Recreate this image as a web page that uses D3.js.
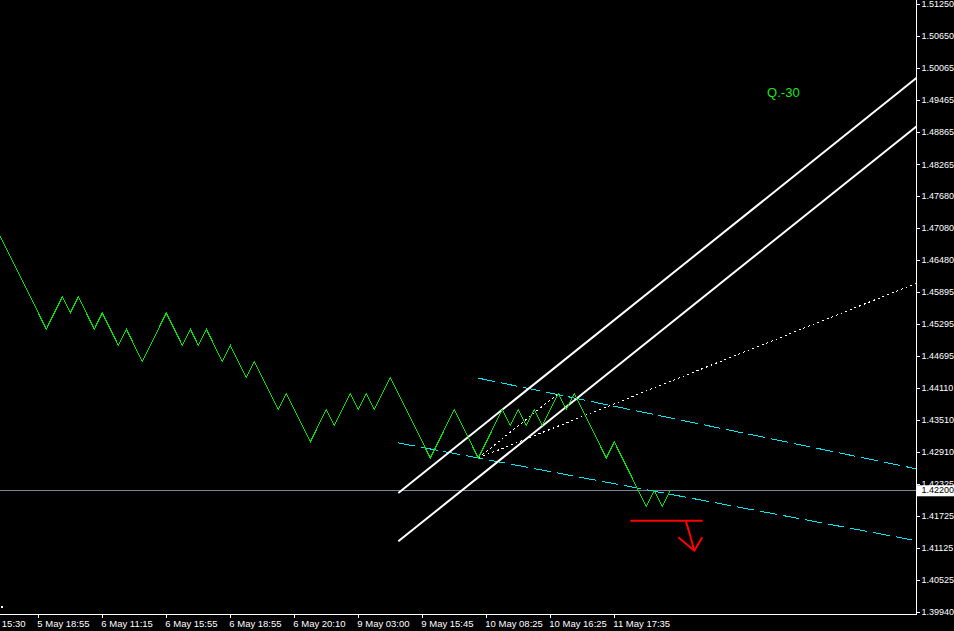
<!DOCTYPE html>
<html><head><meta charset="utf-8">
<script src="https://cdn.jsdelivr.net/npm/d3@7"></script>
<style>html,body{margin:0;padding:0;background:#000;overflow:hidden}</style>
</head><body>
<svg id="c" width="954" height="631"></svg>
<script>
// ---- data ----
const firstBar = -2;
const closes = [
  1.473, 1.470, 1.467, 1.464, 1.461, 1.458, 1.455, 1.452, 1.455, 1.458,
  1.455, 1.458, 1.455, 1.452, 1.455, 1.452, 1.449, 1.452, 1.449, 1.446,
  1.449, 1.452, 1.455, 1.452, 1.449, 1.452, 1.449, 1.452, 1.449, 1.446,
  1.449, 1.446, 1.443, 1.446, 1.443, 1.440, 1.437, 1.440, 1.437, 1.434,
  1.431, 1.434, 1.437, 1.434, 1.437, 1.440, 1.437, 1.440, 1.437, 1.440,
  1.443, 1.440, 1.437, 1.434, 1.431, 1.428, 1.431, 1.434, 1.437, 1.434,
  1.431, 1.428, 1.431, 1.434, 1.437, 1.434, 1.437, 1.434, 1.437, 1.434,
  1.437, 1.440, 1.437, 1.440, 1.437, 1.434, 1.431, 1.428, 1.431, 1.428,
  1.425, 1.422, 1.419, 1.422, 1.419, 1.422
];
const timeTickBars = [-4, 4, 12, 20, 28, 36, 44, 52, 60, 68, 76];
const timeTickLabels = ["5 May 15:30", "5 May 18:55", "6 May 11:15", "6 May 15:55", "6 May 18:55",
  "6 May 20:10", "9 May 03:00", "9 May 15:45", "10 May 08:25", "10 May 16:25", "11 May 17:35"];
const priceTicks = [1.51250, 1.50650, 1.50065, 1.49465, 1.48865, 1.48265, 1.47680, 1.47080, 1.46480, 1.45895,
  1.45295, 1.44695, 1.44110, 1.43510, 1.42910, 1.42325, 1.41725, 1.41125, 1.40525, 1.39940];
const currentPrice = 1.42200;

// drawn objects, anchored as [bar, price]
const channelUpper = [[49, 1.4215], [62, 1.4370]];
const channelLower = [[49, 1.4125], [62, 1.4280]];
const cyanUpper = [[59, 1.44287], [71, 1.43917]];
const cyanLower = [[49, 1.43081], [59, 1.42800]];
const dottedSteep = [[59, 1.4280], [69, 1.4400]];
const dottedRay = [[59, 1.4280], [75, 1.4375]];
const redLevel = [[78, 1.41634], [87.05, 1.41634]];
const arrowShaft = [[84.96, 1.41616], [85.4, 1.41400], [86.0, 1.41075]];
const arrowHead = [[84.0, 1.41324], [86.0, 1.41075], [87.0, 1.41324]];
const noteText = "Q.-30";
const noteAnchor = [95.1, 1.4952];

// ---- layout ----
const W = 954, H = 631, plotR = 916.5, plotB = 614.5;
const x = d3.scaleLinear().domain([-0.7875, 113.7125]).range([0, 916]);
const y = d3.scaleLinear().domain([1.39940, 1.51250]).range([611.7, 4]);

const svg = d3.select("#c");
svg.append("rect").attr("width", W).attr("height", H).attr("fill", "#000");
svg.append("defs").append("clipPath").attr("id", "plot")
  .append("rect").attr("x", 0).attr("y", 0).attr("width", plotR).attr("height", plotB);
const g = svg.append("g").attr("clip-path", "url(#plot)");

const line = d3.line().x(d => x(d[0])).y(d => y(d[1]));
const xMax = x.domain()[1] + 1;
function ray(a) {
  const [p, q] = a;
  const s = (q[1] - p[1]) / (q[0] - p[0]);
  return [p, [xMax, p[1] + s * (xMax - p[0])]];
}

// current price line
g.append("path").attr("d", line([[x.domain()[0] - 1, currentPrice], [xMax, currentPrice]]))
  .attr("stroke", "#778899").attr("stroke-width", 1).attr("fill", "none")
  .attr("shape-rendering", "crispEdges");

// cyan dashed trend lines
[cyanUpper, cyanLower].forEach(a => {
  g.append("path").attr("d", line(ray(a))).attr("stroke", "#00e8f0").attr("stroke-width", 1)
    .attr("fill", "none").attr("stroke-dasharray", "17,6").attr("shape-rendering", "crispEdges");
});

// dotted white lines
g.append("path").attr("d", line(dottedSteep)).attr("stroke", "#fff").attr("stroke-width", 1)
  .attr("fill", "none").attr("stroke-dasharray", "2,3").attr("shape-rendering", "crispEdges");
g.append("path").attr("d", line(ray(dottedRay))).attr("stroke", "#fff").attr("stroke-width", 1)
  .attr("fill", "none").attr("stroke-dasharray", "2,3").attr("shape-rendering", "crispEdges");

// white channel lines
[channelUpper, channelLower].forEach(a => {
  g.append("path").attr("d", line(ray(a))).attr("stroke", "#fff").attr("stroke-width", 2)
    .attr("fill", "none");
});

// price line (green)
const pts = closes.map((c, i) => [firstBar + i, c]);
g.append("path").attr("d", line(pts)).attr("stroke", "#00e600").attr("stroke-width", 1)
  .attr("fill", "none").attr("shape-rendering", "crispEdges");

// red level + arrow
g.append("path").attr("d", line(redLevel)).attr("stroke", "#ff0000").attr("stroke-width", 2).attr("fill", "none");
g.append("path").attr("d", d3.line().x(d => x(d[0])).y(d => y(d[1])).curve(d3.curveCatmullRom)(arrowShaft))
  .attr("stroke", "#ff0000").attr("stroke-width", 2).attr("fill", "none");
g.append("path").attr("d", line(arrowHead)).attr("stroke", "#ff0000").attr("stroke-width", 2)
  .attr("fill", "none").attr("stroke-linejoin", "round");

// annotation text
g.append("text").attr("x", x(noteAnchor[0])).attr("y", y(noteAnchor[1]))
  .attr("fill", "#1ee61e").attr("font-family", "Liberation Sans, Arial, sans-serif")
  .attr("font-size", 13).text(noteText);

// small marker bottom-left
svg.append("rect").attr("x", 1).attr("y", 606).attr("width", 2).attr("height", 2).attr("fill", "#fff");

// ---- axes ----
svg.append("line").attr("x1", 0).attr("x2", plotR).attr("y1", plotB).attr("y2", plotB)
  .attr("stroke", "#fff").attr("shape-rendering", "crispEdges");
svg.append("line").attr("x1", plotR).attr("x2", plotR).attr("y1", 0).attr("y2", plotB)
  .attr("stroke", "#fff").attr("shape-rendering", "crispEdges");

const xa = svg.append("g");
timeTickBars.forEach((b, i) => {
  const xx = Math.round(x(b)) + 0.5;
  xa.append("line").attr("x1", xx).attr("x2", xx).attr("y1", plotB).attr("y2", plotB + 3)
    .attr("stroke", "#fff").attr("shape-rendering", "crispEdges");
  xa.append("text").attr("x", x(b) - 1).attr("y", 626.5).attr("fill", "#fff")
    .attr("font-family", "Liberation Sans, Arial, sans-serif").attr("font-size", 9.5)
    .text(timeTickLabels[i]);
});

const ya = svg.append("g");
priceTicks.forEach(p => {
  const yy = Math.round(y(p)) + 0.5;
  ya.append("line").attr("x1", plotR).attr("x2", plotR + 3).attr("y1", yy).attr("y2", yy)
    .attr("stroke", "#fff").attr("shape-rendering", "crispEdges");
  ya.append("text").attr("x", 921.5).attr("y", y(p)).attr("dy", "0.35em").attr("fill", "#fff")
    .attr("font-family", "Liberation Sans, Arial, sans-serif").attr("font-size", 9)
    .text(p.toFixed(5));
});

// current price label
const cy = y(currentPrice);
ya.append("rect").attr("x", 917).attr("y", cy - 5).attr("width", 37).attr("height", 11).attr("fill", "#fff");
ya.append("text").attr("x", 921.5).attr("y", cy).attr("dy", "0.35em").attr("fill", "#000")
  .attr("font-family", "Liberation Sans, Arial, sans-serif").attr("font-size", 9)
  .text(currentPrice.toFixed(5));
</script>
</body></html>
